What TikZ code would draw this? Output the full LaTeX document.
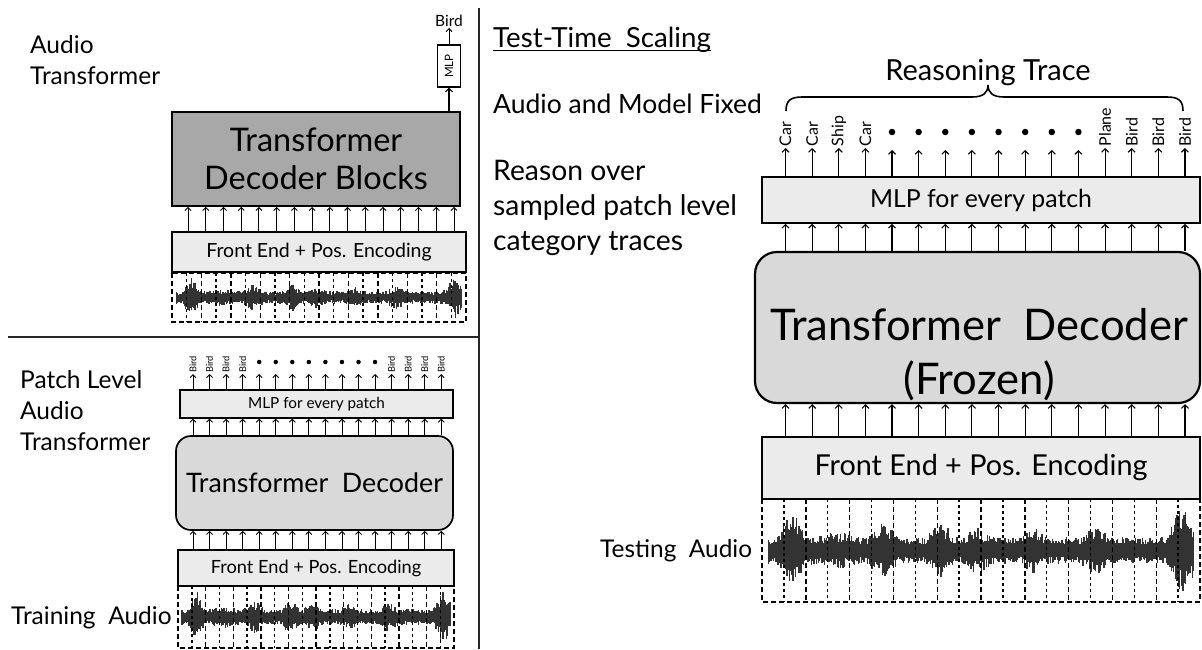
\documentclass[tikz,border=0pt]{standalone}
\usepackage{fontspec}
\setmainfont{Lato}
\usetikzlibrary{arrows.meta}
\definecolor{boxlight}{HTML}{EBEBEB}
\definecolor{decgray}{HTML}{D9D9D9}
\definecolor{blockgray}{HTML}{A8A8A8}
\definecolor{wavec}{HTML}{333333}
\newcommand\fsz[2]{\fontsize{#1}{#2}\selectfont}
\newcommand\wavefm[5]{%
  \pgfmathsetseed{#5}%
  \pgfmathsetmacro\wW{#3-#1}%
  \pgfmathsetmacro\wH{#4-#2}%
  \pgfmathtruncatemacro\wN{\wW/1.2}%
  \begin{scope}[shift={(#1,#2)}]
    \foreach \k in {0,...,\wN} {
      \pgfmathsetmacro\wt{\k/\wN}
      \pgfmathsetmacro\wenv{min(0.92, 0.26
        + 0.6*max(0,1-abs(\wt-0.055)/0.035)
        + 0.1*max(0,1-abs(\wt-0.16)/0.08)
        + 0.28*max(0,1-abs(\wt-0.27)/0.04)
        + 0.33*max(0,1-abs(\wt-0.405)/0.035)
        + 0.2*max(0,1-abs(\wt-0.49)/0.04)
        + 0.2*max(0,1-abs(\wt-0.625)/0.035)
        + 0.22*max(0,1-abs(\wt-0.77)/0.04)
        + 0.65*max(0,1-abs(\wt-0.975)/0.04))}
      \pgfmathsetmacro\wup{\wenv*(0.45+0.55*rnd)*0.5*\wH}
      \pgfmathsetmacro\wdn{\wenv*(0.45+0.55*rnd)*0.5*\wH}
      \pgfmathsetmacro\wx{0.015*\wW+0.97*\wt*\wW}
      \draw[wavel] (\wx,0.5*\wH-\wup) -- (\wx,0.5*\wH+\wdn);
    }
    \draw[dashout] (0,0) rectangle (\wW,\wH);
    \foreach \j in {1,...,9} \draw[dashout] (\j*\wW/10,0) -- (\j*\wW/10,\wH);
    \foreach \j in {0,...,9} \draw[dashin] ({(\j+0.5)*\wW/10},0) -- ({(\j+0.5)*\wW/10},\wH);
  \end{scope}}
\begin{document}
\begin{tikzpicture}[x=1pt,y=-1pt,
  box/.style={draw=black, line width=1.3pt, fill=boxlight, inner sep=0pt},
  arr/.style={-{Straight Barb[length=3pt,width=6pt]}, line width=0.9pt},
  arrb/.style={-{Straight Barb[length=3.5pt,width=7pt]}, line width=1.1pt},
  wavel/.style={wavec, line width=1.4pt},
  dashout/.style={line width=1.4pt, dash pattern=on 5pt off 3pt},
  dashin/.style={line width=1.4pt, dash pattern=on 2.5pt off 3.5pt},
  lab/.style={inner sep=1pt, anchor=south},
  dotn/.style={circle, fill=black, inner sep=0pt},
  txt/.style={inner sep=0pt}]
\useasboundingbox[fill=white] (0,0) rectangle (1202,649);

% dividers
\draw[line width=2.5pt, black!85] (479,8) -- (479,649);
\draw[line width=2.5pt, black!85] (8,337) -- (479,337);

% ---------------- top left ----------------
\node[txt, anchor=north west, align=left, font=\fsz{24.5}{31}] (at1) at (30,35) {Audio\\Transformer};
\wavefm{172}{273}{466}{322}{11}
\node[box, fill=blockgray, line width=1.8pt, minimum width=288pt, minimum height=94pt, align=center, font=\fsz{32.5}{38}] (tdb) at (316,159) {Transformer\\Decoder Blocks};
\node[box, minimum width=294pt, minimum height=40pt, font=\fsz{19.5}{22}] (fe1) at (319,252) {Front End + Pos. Encoding};
\node[box, fill=white, minimum width=23pt, minimum height=42pt, font=\fsz{11.5}{13}] (mlp1) at (449,66) {\rotatebox{90}{MLP}};
\node[inner sep=1pt, anchor=south, font=\fsz{15.5}{17}] (bird1) at (449,28) {Bird};
\draw[arrb] (tdb.north -| mlp1.south) -- (mlp1.south);
\draw[arr] (mlp1.north) -- (bird1.south);
\foreach \i in {0,...,15} {
  \pgfmathsetmacro\xx{188+\i*17.73}
  \draw[arr] (fe1.north -| \xx,0) -- (tdb.south -| \xx,0);
}

% ---------------- bottom left ----------------
\node[txt, anchor=north west, align=left, font=\fsz{24.5}{31}] (plat) at (20,370) {Patch Level\\Audio\\Transformer};
\node[txt, anchor=base west, font=\fsz{24.5}{28}] (train) at (11,624) {Training\ \ Audio};
\wavefm{178}{586}{454}{648}{11}
\node[box, minimum width=273pt, minimum height=28pt, font=\fsz{15.3}{17}] (mlp2) at (316.5,404) {MLP for every patch};
\node[box, fill=decgray, rounded corners=15pt, line width=1.7pt, minimum width=277pt, minimum height=94pt, font=\fsz{26.8}{30}] (dec2) at (314.5,483) {Transformer\ \ Decoder};
\node[box, minimum width=276pt, minimum height=36pt, font=\fsz{18.2}{21}] (fe2) at (316,568) {Front End + Pos. Encoding};
\foreach \i in {0,...,15} {
  \pgfmathsetmacro\xx{193+\i*16.55}
  \draw[arr] (dec2.north -| \xx,0) -- (mlp2.south -| \xx,0);
  \draw[arr] (fe2.north -| \xx,0) -- (dec2.south -| \xx,0);
}
\foreach \i in {0,1,2,3,12,13,14,15} {
  \pgfmathsetmacro\xx{193+\i*16.55}
  \node[lab, font=\fsz{9.3}{10}] (b\i) at (\xx,374) {\rotatebox{90}{Bird}};
  \draw[arr] (mlp2.north -| \xx,0) -- (b\i.south);
}
\foreach \i in {4,...,11} {
  \pgfmathsetmacro\xx{193+\i*16.55}
  \node[dotn, minimum size=4.5pt] (b\i) at (\xx,362) {};
  \draw[arr] (mlp2.north -| \xx,0) -- ([yshift=-12pt]b\i.center);
}

% ---------------- right ----------------
\node[txt, anchor=base west, font=\fsz{27.7}{32}] (tts) at (493,47) {Test-Time\ \ Scaling};
\draw[line width=1.5pt] ([yshift=-3.5pt]tts.base west) -- ([yshift=-3.5pt]tts.base east);
\node[txt, anchor=base west, font=\fsz{26.5}{32}] (amf) at (493,113) {Audio and Model Fixed};
\node[txt, anchor=north west, align=left, font=\fsz{28.3}{35}] (rov) at (493,160) {Reason over\\sampled patch level\\category traces};
\node[txt, anchor=base west, font=\fsz{24.4}{28}] (testa) at (600,557) {Testing\ \ Audio};

\node[txt, anchor=base, font=\fsz{29}{32}] (rt) at (988,80) {Reasoning Trace};
\draw[line width=1.6pt] (786,111) .. controls (786,101) and (790,97) .. (802,97) -- (972,97) .. controls (983,97) and (988,93) .. (988,85) .. controls (988,93) and (993,97) .. (1004,97) -- (1167,97) .. controls (1179,97) and (1183,101) .. (1183,111);

\wavefm{762}{499}{1200}{602}{11}
\node[box, line width=1.6pt, minimum width=438pt, minimum height=46pt, font=\fsz{24.8}{28}] (mlp3) at (981,200) {MLP for every patch};
\node[box, fill=decgray, rounded corners=22pt, line width=2.2pt, minimum width=445pt, minimum height=151pt] (dec3) at (977.5,327.5) {};
\node[txt, anchor=north, align=center, font=\fsz{43.6}{54}] (dect) at (979,308) {Transformer\ \ Decoder\\(Frozen)};
\node[box, line width=1.6pt, minimum width=438pt, minimum height=62pt, font=\fsz{28.8}{32}] (fe3) at (981,468) {Front End + Pos. Encoding};
\foreach \i in {0,...,15} {
  \pgfmathsetmacro\xx{785.5+\i*26.63}
  \draw[arrb] (dec3.north -| \xx,0) -- (mlp3.south -| \xx,0);
  \draw[arrb] (fe3.north -| \xx,0) -- (dec3.south -| \xx,0);
}
\foreach \i/\lab in {0/Car,1/Car,2/Ship,3/Car,12/Plane,13/Bird,14/Bird,15/Bird} {
  \pgfmathsetmacro\xx{785.5+\i*26.63}
  \node[lab, inner sep=1.5pt, font=\fsz{16}{18}] (r\i) at (\xx,148) {\rotatebox{90}{\lab}};
  \draw[arrb] (mlp3.north -| \xx,0) -- (r\i.south);
}
\foreach \i in {4,...,11} {
  \pgfmathsetmacro\xx{785.5+\i*26.63}
  \node[dotn, minimum size=6.5pt] (r\i) at (\xx,132) {};
  \draw[arrb] (mlp3.north -| \xx,0) -- ([yshift=-18pt]r\i.center);
}
\end{tikzpicture}
\end{document}
